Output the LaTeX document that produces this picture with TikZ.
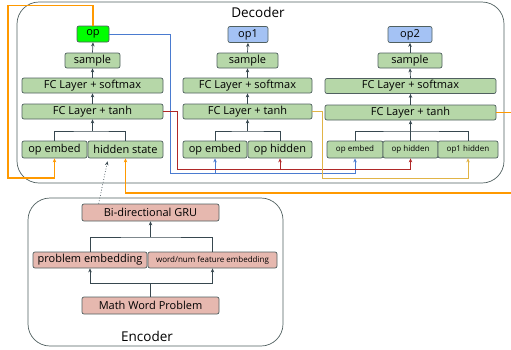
\documentclass[tikz,border=0pt]{standalone}
\usepackage{fontspec}
\setmainfont{Open Sans}
\usetikzlibrary{arrows.meta}
\definecolor{boxgreen}{RGB}{182,215,168}
\definecolor{opgreen}{RGB}{0,255,0}
\definecolor{opblue}{RGB}{164,194,244}
\definecolor{boxred}{RGB}{230,184,175}
\definecolor{edgegray}{RGB}{80,96,96}
\definecolor{flowgray}{RGB}{55,71,79}
\definecolor{lineorange}{RGB}{255,153,0}
\definecolor{lineblue}{RGB}{74,123,208}
\definecolor{linered}{RGB}{176,40,40}
\definecolor{linegold}{RGB}{225,180,70}

\begin{document}
\begin{tikzpicture}[x=1pt,y=-1pt,
    blk/.style={draw=edgegray,line width=0.7pt,rounded corners=2pt,fill=boxgreen,
      inner sep=0pt,minimum height=15pt,font=\fontsize{11}{12}\selectfont},
    small/.style={font=\fontsize{8}{9}\selectfont},
    enc/.style={blk,fill=boxred},
    frame/.style={draw=edgegray,line width=0.7pt,rounded corners=22pt},
    flow/.style={flowgray,line width=0.7pt,-{Stealth[length=4pt,width=3.5pt]}},
    link/.style={flowgray,line width=0.7pt},
    feed/.style={line width=0.8pt,-{Stealth[length=4pt,width=3.5pt]}}
  ]
  \clip (0,0) rectangle (511,349);

  % boxes round decoder and encoder
  \draw[frame] (17,2) rectangle (504,183);
  \node[font=\fontsize{13.5}{15}\selectfont] (dectitle) at (258,12) {Decoder};
  \draw[frame] (28,198) rectangle (283,346);
  \node[font=\fontsize{13.5}{15}\selectfont] (enctitle) at (147,336) {Encoder};

  % first step
  \node[blk,fill=opgreen,minimum width=32pt,minimum height=16pt] (op) at (93,34) {op};
  \node[blk,minimum width=55pt] (samp1) at (92.5,60.5) {sample};
  \node[blk,minimum width=141pt] (fcs1) at (92.5,85.5) {FC Layer + softmax};
  \node[blk,minimum width=141pt] (fct1) at (92.5,111.5) {FC Layer + tanh};
  \node[blk,minimum width=65pt,minimum height=17pt] (emb1) at (54.5,149.5) {op embed};
  \node[blk,minimum width=75pt,minimum height=17pt] (hid1) at (125.5,149.5) {hidden state};

  % second step
  \node[blk,fill=opblue,minimum width=40pt,minimum height=16pt] (op1) at (248,34.5) {op1};
  \node[blk,minimum width=61pt] (samp2) at (247.5,60.5) {sample};
  \node[blk,minimum width=129pt] (fcs2) at (247.5,85.5) {FC Layer + softmax};
  \node[blk,minimum width=129pt] (fct2) at (247.5,111.5) {FC Layer + tanh};
  \node[blk,minimum width=64pt,minimum height=17pt] (emb2) at (215,149.5) {op embed};
  \node[blk,minimum width=64pt,minimum height=17pt] (hid2) at (280,149.5) {op hidden};

  % third step
  \node[blk,fill=opblue,minimum width=44pt,minimum height=16pt] (op2) at (410,34.5) {op2};
  \node[blk,minimum width=64pt] (samp3) at (410,60.5) {sample};
  \node[blk,minimum width=171pt] (fcs3) at (410.5,86) {FC Layer + softmax};
  \node[blk,minimum width=171pt] (fct3) at (410.5,112.5) {FC Layer + tanh};
  \node[blk,small,minimum width=56pt,minimum height=17pt] (emb3) at (355,149.5) {op embed};
  \node[blk,small,minimum width=55pt,minimum height=17pt] (hid3) at (410.5,149.5) {op hidden};
  \node[blk,small,minimum width=60pt,minimum height=17pt] (hid31) at (468,149.5) {op1 hidden};

  % encoder
  \node[enc,minimum width=137pt,minimum height=17pt] (gru) at (150.5,212.5) {Bi-directional GRU};
  \node[enc,minimum width=114pt,minimum height=16pt] (pemb) at (90,260) {problem embedding};
  \node[enc,small,minimum width=129pt,minimum height=16pt] (wemb) at (212.5,260) {word/num feature embedding};
  \node[enc,minimum width=137pt,minimum height=17pt] (mwp) at (150.5,305.5) {Math Word Problem};

  % arrows inside the columns
  \foreach \a/\b in {samp1/op,fcs1/samp1,fct1/fcs1,samp2/op1,fcs2/samp2,fct2/fcs2,samp3/op2,fcs3/samp3,fct3/fcs3}
    \draw[flow] (\a.north) -- (\b.south);
  \draw[link] (emb1.north) |- (fct1.south|-0,131) -| (hid1.north);
  \draw[flow] (fct1.south|-0,131) -- (fct1.south);
  \draw[link] (emb2.north) |- (fct2.south|-0,131) -| (hid2.north);
  \draw[flow] (fct2.south|-0,131) -- (fct2.south);
  \draw[link] (emb3.north) |- (hid3.north|-0,131) -| (hid31.north);
  \draw[flow] (hid3.north) -- (hid3.north|-fct3.south);

  % arrows inside the encoder
  \draw[link] (mwp.north) -- (mwp.north|-0,283);
  \draw[flow] (mwp.north|-0,283) -| (pemb.south);
  \draw[flow] (mwp.north|-0,283) -| (wemb.south);
  \draw[link] (pemb.north) |- (gru.south|-0,237) -| (wemb.north);
  \draw[flow] (gru.south|-0,237) -- (gru.south);
  \draw[flowgray,dotted,line width=0.7pt,-{Stealth[length=4pt,width=3.5pt]}]
    ([xshift=17pt]gru.north west) -- ([shift={(-18,3)}]hid1.south);

  % feedback lines
  \coordinate (orc) at (8,178);
  \coordinate (bluec) at (170,173);
  \coordinate (redc) at (177,169);
  \coordinate (goldc) at (322,178);
  \draw[feed,lineorange,line width=1.4pt] (op.north) -- ++(0,-20) -| (orc) -| (emb1.south);
  \draw[feed,lineorange,line width=1.4pt] (fct3.east) -- (520,112.5) -- (520,193) -| (hid1.south);
  \draw[feed,lineblue] (op.east) -| (bluec) -| (emb3.south);
  \draw[feed,lineblue] (bluec-|emb2.south) -- (emb2.south);
  \draw[feed,linered] (fct1.east) -| (redc) -| (hid3.south);
  \draw[feed,linered] (redc-|hid2.south) -- (hid2.south);
  \draw[feed,linegold] (fct2.east) -| (goldc) -| (hid31.south);
\end{tikzpicture}
\end{document}
